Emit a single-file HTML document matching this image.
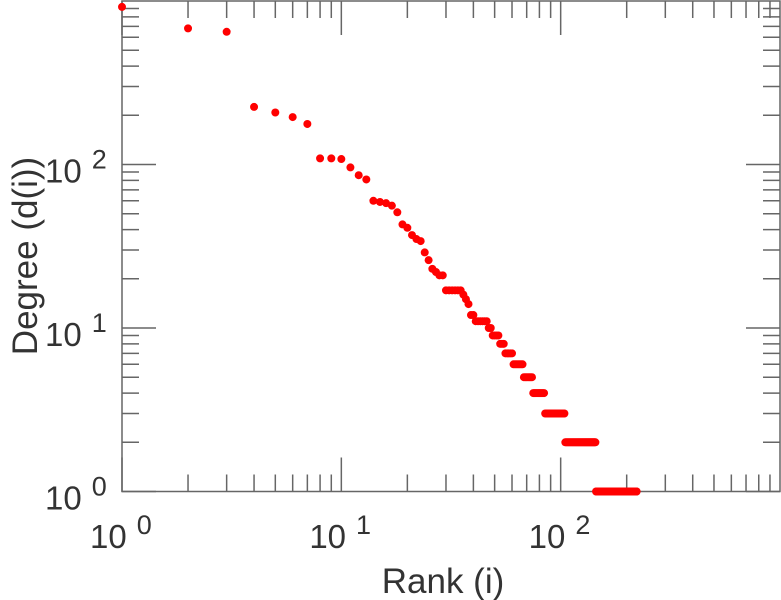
<!DOCTYPE html>
<html><head><meta charset="utf-8"><style>
html,body{margin:0;padding:0;background:#fff;width:781px;height:600px;overflow:hidden}
svg text{font-family:"Liberation Sans",sans-serif;fill:#333}
</style></head><body>
<svg id="chart" width="781" height="600" viewBox="0 0 781 600">
<g id="axes"></g>
<g id="points"></g>
<text x="443" y="593" font-size="35" text-anchor="middle">Rank (i)</text>
<text transform="translate(37,256) rotate(-90)" font-size="35" text-anchor="middle">Degree (d(i))</text>
</svg>
<script>
const degreeLevels = [920,680,648,225,208,195,177,109,109,108,96,86,81,60,59,58,56,51,43,41,37,35,34,29,26,23,22,21,21];
const tailDegrees = [17,16,15,14,12,11,10,9,8,7,6,5,4,3,2,1];
const tailCounts = [6,1,1,1,2,6,2,4,3,5,7,7,10,20,40,78];
const xTickExps = [0,1,2];
const yTickExps = [0,1,2];

const L=122,R=780,T=1,B=491.5;
const xs=v=>L+(Math.log10(v))*(R-L)/3;
const ys=v=>B-(Math.log10(v))*(B-T)/3;
const NS="http://www.w3.org/2000/svg";
const axes=document.getElementById('axes');
function mk(tag,attrs,parent){const e=document.createElementNS(NS,tag);for(const k in attrs)e.setAttribute(k,attrs[k]);parent.appendChild(e);return e;}

const frame=mk('rect',{x:L,y:T,width:R-L,height:B-T,fill:'none',stroke:'#666','stroke-width':1.5},axes);



for(let e=0;e<3;e++){for(let m=1;m<10;m++){
  const v=Math.pow(10,e)*m;const len=m===1?34:17;
  const x=xs(v),y=ys(v);
  const t1=mk('line',{x1:x,x2:x,y1:B,y2:B-len,stroke:'#666','stroke-width':1.5},axes);
  
  
  const t2=mk('line',{x1:x,x2:x,y1:T,y2:T+len,stroke:'#666','stroke-width':1.5},axes);
  
  
  const t3=mk('line',{x1:L,x2:L+len,y1:y,y2:y,stroke:'#666','stroke-width':1.5},axes);
  
  
  const t4=mk('line',{x1:R,x2:R-len,y1:y,y2:y,stroke:'#666','stroke-width':1.5},axes);
  
  
}}

xTickExps.forEach(e=>{
  const t=mk('text',{x:xs(Math.pow(10,e))-32,y:548,'font-size':33},axes);
  
  
  t.innerHTML='10<tspan dx="10" dy="-14" font-size="27">'+e+'</tspan>';
});
yTickExps.forEach(e=>{
  const t=mk('text',{x:45,y:ys(Math.pow(10,e))+18,'font-size':33},axes);
  
  
  t.innerHTML='10<tspan dx="10" dy="-14" font-size="27">'+e+'</tspan>';
});

const pts=document.getElementById('points');
const all=degreeLevels.slice();
tailDegrees.forEach((d,i)=>{for(let k=0;k<tailCounts[i];k++)all.push(d);});
all.forEach((d,i)=>{
  const c=mk('circle',{cx:xs(i+1),cy:ys(d),r:4,fill:'#ff0000'},pts);
  
  
});
</script>
</body></html>
